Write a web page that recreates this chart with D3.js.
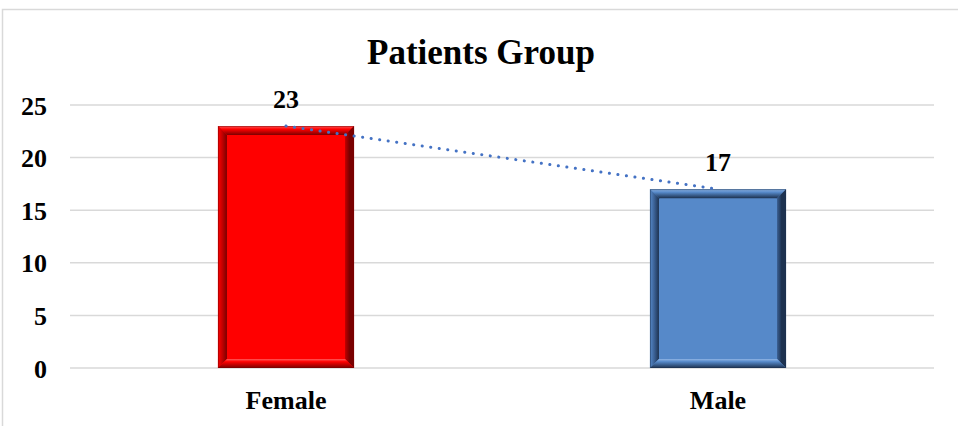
<!DOCTYPE html>
<html>
<head>
<meta charset="utf-8">
<script src="https://cdn.jsdelivr.net/npm/d3@7"></script>
<style>
  body { margin: 0; background: #fff; }
  svg text { font-family: "Liberation Serif", "Times New Roman", serif; font-weight: bold; fill: #000; }
</style>
</head>
<body>
<div id="chart"></div>
<script>
// chart data
const categories = ["Female", "Male"];
const values = [23, 17];
const yTicks = [0, 5, 10, 15, 20, 25];
const chartTitle = "Patients Group";

const W = 958, H = 426;

const svg = d3.select("#chart").append("svg")
    .attr("width", W)
    .attr("height", H);

// outer frame (only top + left visible in the crop)
svg.append("rect")
    .attr("x", 2.5).attr("y", 9.5)
    .attr("width", W + 10).attr("height", H + 10)
    .attr("fill", "none")
    .attr("stroke", "#d9d9d9")
    .attr("stroke-width", 1.5);

// scales
let x = d3.scaleBand()
    .domain(categories)
    .range([70, 934])
    .paddingInner(0.685)
    .paddingOuter(0.3425);

let y = d3.scaleLinear()
    .domain([0, 25])
    .range([368, 105]);

// gridlines
svg.append("g").selectAll("line")
    .data(yTicks)
    .enter().append("line")
    .attr("x1", 70).attr("x2", 934)
    .attr("y1", d => y(d)).attr("y2", d => y(d))
    .attr("stroke", "#d9d9d9")
    .attr("stroke-width", 1.5);

// y axis labels
let yAxis = d3.axisLeft(y).tickValues(yTicks).tickSize(0).tickPadding(0);
let yG = svg.append("g")
    .attr("transform", "translate(47,0)")
    .call(yAxis);
yG.select(".domain").remove();
yG.selectAll("text")
    .attr("font-size", 26)
    .attr("font-family", null)
    .attr("dy", "0.35em");

// x axis labels
let xAxis = d3.axisBottom(x).tickSize(0).tickPadding(0);
let xG = svg.append("g")
    .call(xAxis);
xG.select(".domain").remove();
xG.selectAll("text")
    .attr("font-size", 26)
    .attr("font-family", null)
    .attr("y", 409)
    .attr("dy", 0);

// bevel gradients
const palettes = {
    Female: {face: "#ff0000", light: "#ff5a5a", dark: "#7a0000", mid: "#c00000"},
    Male:   {face: "#5689c9", light: "#8fb4e4", dark: "#1d3250", mid: "#3a5f92"}
};
let defs = svg.append("defs");

function grad(id, x1, y1, x2, y2, stops) {
    let g = defs.append("linearGradient").attr("id", id)
        .attr("x1", x1).attr("y1", y1).attr("x2", x2).attr("y2", y2);
    stops.forEach(s => g.append("stop").attr("offset", s[0]).attr("stop-color", s[1]));
}

categories.forEach((c, i) => {
    let p = palettes[c];
    grad("top" + i, 0, 0, 0, 1, [[0, p.light], [0.35, p.face], [1, p.dark]]);
    grad("left" + i, 0, 0, 1, 0, [[0, p.face], [0.5, p.mid], [1, p.dark]]);
    grad("right" + i, 0, 0, 1, 0, [[0, p.mid], [0.5, p.dark], [1, p.dark]]);
    grad("bottom" + i, 0, 0, 0, 1, [[0, p.light], [0.3, p.face], [1, p.dark]]);
});

// bars
const bev = 9;
let bars = svg.append("g").selectAll("g.bar")
    .data(values)
    .enter().append("g")
    .attr("class", "bar");

bars.each(function (d, i) {
    let g = d3.select(this);
    let x0 = x(categories[i]), x1 = x0 + x.bandwidth();
    let y0 = y(d), y1 = y(0);
    let p = palettes[categories[i]];

    g.append("rect")
        .attr("x", x0).attr("y", y0)
        .attr("width", x1 - x0).attr("height", y1 - y0)
        .attr("fill", p.face);

    let sides = [
        ["top", [[x0, y0], [x1, y0], [x1 - bev, y0 + bev], [x0 + bev, y0 + bev]]],
        ["left", [[x0, y0], [x0 + bev, y0 + bev], [x0 + bev, y1 - bev], [x0, y1]]],
        ["right", [[x1 - bev, y0 + bev], [x1, y0], [x1, y1], [x1 - bev, y1 - bev]]],
        ["bottom", [[x0 + bev, y1 - bev], [x1 - bev, y1 - bev], [x1, y1], [x0, y1]]]
    ];
    sides.forEach(s => {
        g.append("polygon")
            .attr("points", s[1].map(pt => pt.join(",")).join(" "))
            .attr("fill", `url(#${s[0]}${i})`);
    });
    g.append("rect")
        .attr("x", x0 + 0.5).attr("y", y0 + 0.5)
        .attr("width", x1 - x0 - 1).attr("height", y1 - y0 - 1)
        .attr("fill", "none")
        .attr("stroke", p.dark)
        .attr("stroke-opacity", 0.5);
});

// dotted trend line between the two bar tops
let trend = d3.line()
    .x((d, i) => x(categories[i]) + x.bandwidth() / 2)
    .y(d => y(d));

svg.append("path")
    .datum(values)
    .attr("d", trend)
    .attr("fill", "none")
    .attr("stroke", "#4472c4")
    .attr("stroke-width", 3)
    .attr("stroke-linecap", "round")
    .attr("stroke-dasharray", "0.1 8.5");

// data labels
svg.append("g").selectAll("text")
    .data(values)
    .enter().append("text")
    .attr("x", (d, i) => x(categories[i]) + x.bandwidth() / 2)
    .attr("y", d => y(d) - 18)
    .attr("text-anchor", "middle")
    .attr("font-size", 26)
    .text(d => d);

// title
svg.append("text")
    .attr("x", 481)
    .attr("y", 64)
    .attr("text-anchor", "middle")
    .attr("font-size", 35)
    .text(chartTitle);
</script>
</body>
</html>
